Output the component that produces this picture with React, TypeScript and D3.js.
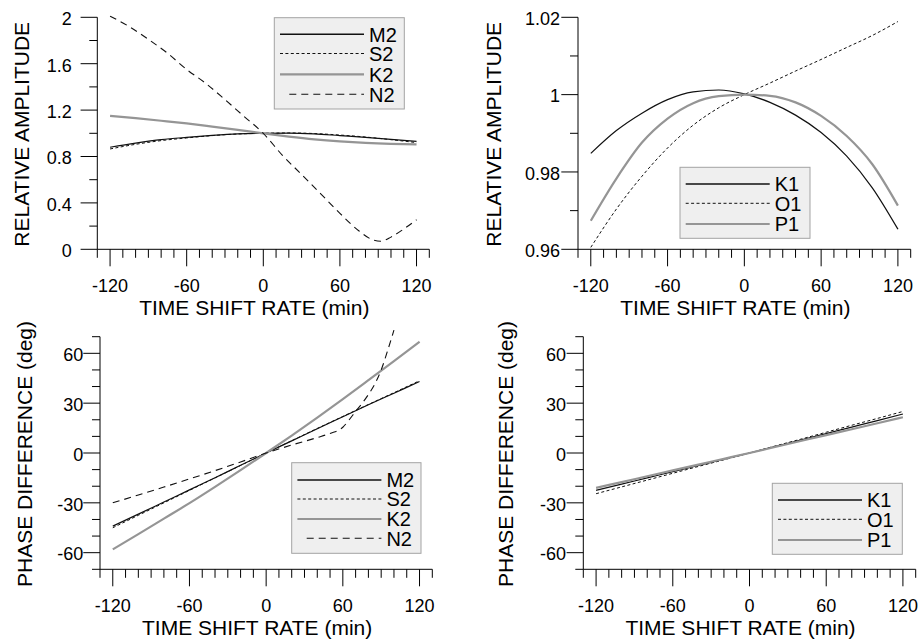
import React from "react";
import * as d3 from "d3";

// ---------- data ----------
const SHIFT = [-120, -100, -80, -60, -40, -20, 0, 20, 40, 60, 80, 100, 120];

// Relative amplitude, semidiurnal
const AMP_M2 = [0.88, 0.915, 0.945, 0.965, 0.982, 0.995, 1.0, 1.002, 0.995, 0.98, 0.965, 0.948, 0.93];
const AMP_S2 = [0.865, 0.905, 0.937, 0.96, 0.98, 0.994, 1.0, 1.003, 0.998, 0.985, 0.968, 0.945, 0.92];
const AMP_K2 = [1.15, 1.13, 1.108, 1.085, 1.058, 1.03, 1.0, 0.972, 0.948, 0.93, 0.917, 0.909, 0.905];
const AMP_N2_X = [-120, -105, -90, -75, -60, -45, -30, -15, 0, 15, 30, 45, 60, 75, 85, 92, 100, 110, 120];
const AMP_N2 = [2.01, 1.92, 1.81, 1.69, 1.55, 1.43, 1.29, 1.145, 1.0, 0.81, 0.645, 0.478, 0.31, 0.158, 0.085, 0.07, 0.105, 0.175, 0.255];

// Relative amplitude, diurnal
const AMP_K1 = [0.9848, 0.9907, 0.9952, 0.9987, 1.0007, 1.0012, 1.0002, 0.998, 0.9947, 0.9902, 0.9841, 0.9759, 0.9652];
const AMP_O1 = [0.9605, 0.9704, 0.9789, 0.9862, 0.9921, 0.9966, 1.0, 1.003, 1.0061, 1.0091, 1.0122, 1.0153, 1.0189];
const AMP_P1 = [0.9674, 0.9783, 0.9876, 0.9938, 0.9978, 0.9996, 1.0, 0.9997, 0.998, 0.9945, 0.9893, 0.982, 0.9713];

// Phase difference, semidiurnal
const PH_M2 = [-44, -36.8, -29.5, -22.2, -14.9, -7.4, 0, 7.3, 14.6, 21.8, 29, 36, 43];
const PH_S2 = [-45, -37.5, -30, -22.5, -15, -7.5, 0, 7.4, 14.8, 22, 29.2, 36.3, 43.5];
const PH_K2 = [-58, -48.8, -39.5, -30.2, -20.4, -10.3, 0, 10.5, 21.3, 32.4, 43.8, 55.3, 67];
const PH_N2_X = [-120, -100, -80, -60, -40, -20, 0, 20, 40, 50, 60, 65, 70, 75, 80, 85, 90, 95, 100];
const PH_N2 = [-30, -25.3, -20.5, -15.6, -10.6, -5.4, 0, 4.8, 9.3, 11.8, 15.5, 20, 25, 29.8, 35.2, 41.5, 50, 61.5, 74];

// Phase difference, diurnal
const PH_K1 = [-22.5, -18.7, -15, -11.2, -7.5, -3.7, 0, 3.9, 7.8, 11.7, 15.6, 19.5, 23.5];
const PH_O1 = [-24.5, -20.4, -16.3, -12.2, -8.1, -4.1, 0, 4.2, 8.3, 12.5, 16.7, 20.8, 25];
const PH_P1 = [-21, -17.5, -14, -10.5, -7, -3.5, 0, 3.6, 7.2, 10.8, 14.3, 17.9, 21.5];

// Tick labels
const X_MAJOR = [-120, -60, 0, 60, 120];
const Y_MAJOR_AMP2 = [0, 0.4, 0.8, 1.2, 1.6, 2];
const Y_MAJOR_AMP1 = [0.96, 0.98, 1, 1.02];
const Y_MAJOR_PH = [-60, -30, 0, 30, 60];

const X_TITLE = "TIME SHIFT RATE (min)";
const Y_TITLE_AMP = "RELATIVE AMPLITUDE";
const Y_TITLE_PH = "PHASE DIFFERENCE (deg)";

// ---------- styles ----------
const FONT = "'Liberation Sans', Arial, Helvetica, sans-serif";
type StyleKey = "solid" | "short" | "gray" | "long";
const STYLES: Record<StyleKey, { stroke: string; width: number; dash?: string }> = {
  solid: { stroke: "#111", width: 1.2 },
  short: { stroke: "#111", width: 1, dash: "3,2.4" },
  gray: { stroke: "#959595", width: 2.2 },
  long: { stroke: "#111", width: 1.1, dash: "7,5" },
};

type Series = { name: string; xs: number[]; ys: number[]; style: StyleKey };

type PanelCfg = {
  xRange: [number, number];
  yRange: [number, number];
  yDomain: [number, number];
  yStep: number;
  yMajor: number[];
  yTitle: string;
  yTitleX: number;
  labelGap: number;
  legend: { x: number; y: number; w: number; h: number; rows: number[] };
  series: Series[];
};

const PANELS: PanelCfg[] = [
  {
    xRange: [97.3, 429.3],
    yRange: [249.3, 17.3],
    yDomain: [0, 2],
    yStep: 0.2,
    yMajor: Y_MAJOR_AMP2,
    yTitle: Y_TITLE_AMP,
    yTitleX: 29,
    labelGap: 25.6,
    legend: { x: 274.3, y: 17.7, w: 130, h: 91.3, rows: [16.6, 35.8, 56.6, 76.6] },
    series: [
      { name: "M2", xs: SHIFT, ys: AMP_M2, style: "solid" },
      { name: "S2", xs: SHIFT, ys: AMP_S2, style: "short" },
      { name: "K2", xs: SHIFT, ys: AMP_K2, style: "gray" },
      { name: "N2", xs: AMP_N2_X, ys: AMP_N2, style: "long" },
    ],
  },
  {
    xRange: [578, 910.7],
    yRange: [249.3, 17.3],
    yDomain: [0.96, 1.02],
    yStep: 0.01,
    yMajor: Y_MAJOR_AMP1,
    yTitle: Y_TITLE_AMP,
    yTitleX: 501,
    labelGap: 18,
    legend: { x: 680, y: 167.3, w: 130, h: 71, rows: [16.7, 36, 56.7] },
    series: [
      { name: "K1", xs: SHIFT, ys: AMP_K1, style: "solid" },
      { name: "O1", xs: SHIFT, ys: AMP_O1, style: "short" },
      { name: "P1", xs: SHIFT, ys: AMP_P1, style: "gray" },
    ],
  },
  {
    xRange: [100, 432.3],
    yRange: [569.3, 336.7],
    yDomain: [-70, 70],
    yStep: 10,
    yMajor: Y_MAJOR_PH,
    yTitle: Y_TITLE_PH,
    yTitleX: 31.5,
    labelGap: 16.7,
    legend: { x: 291.7, y: 462.7, w: 129.3, h: 90.6, rows: [17.3, 36.3, 56.3, 75.6] },
    series: [
      { name: "M2", xs: SHIFT, ys: PH_M2, style: "solid" },
      { name: "S2", xs: SHIFT, ys: PH_S2, style: "short" },
      { name: "K2", xs: SHIFT, ys: PH_K2, style: "gray" },
      { name: "N2", xs: PH_N2_X, ys: PH_N2, style: "long" },
    ],
  },
  {
    xRange: [583.3, 915.7],
    yRange: [569.3, 336.7],
    yDomain: [-70, 70],
    yStep: 10,
    yMajor: Y_MAJOR_PH,
    yTitle: Y_TITLE_PH,
    yTitleX: 513,
    labelGap: 17.3,
    legend: { x: 772.3, y: 483.3, w: 130, h: 71, rows: [16.7, 36, 56.7] },
    series: [
      { name: "K1", xs: SHIFT, ys: PH_K1, style: "solid" },
      { name: "O1", xs: SHIFT, ys: PH_O1, style: "short" },
      { name: "P1", xs: SHIFT, ys: PH_P1, style: "gray" },
    ],
  },
];

const fmt = (v: number) => String(+v.toFixed(4));

function Panel({ cfg }: { cfg: PanelCfg }) {
  const x = d3.scaleLinear().domain([-130, 130]).range(cfg.xRange);
  const y = d3.scaleLinear().domain(cfg.yDomain).range(cfg.yRange);
  const xTicks = d3.range(0, 27).map((i) => -130 + i * 10);
  const nY = Math.round((cfg.yDomain[1] - cfg.yDomain[0]) / cfg.yStep);
  const yTicks = d3.range(0, nY + 1).map((i) => cfg.yDomain[0] + i * cfg.yStep);
  const isMajor = (v: number, arr: number[]) => arr.some((m) => Math.abs(m - v) < 1e-6);
  const x0 = x(-130);
  const yBottom = y(cfg.yDomain[0]);
  const yTop = y(cfg.yDomain[1]);
  const line = d3
    .line<[number, number]>()
    .x((d) => x(d[0]))
    .y((d) => y(d[1]))
    .curve(d3.curveMonotoneX);
  const lg = cfg.legend;
  return (
    <g>
      {/* curves */}
      {cfg.series.map((s) => {
        const st = STYLES[s.style];
        const pts = s.xs.map((xv, i) => [xv, s.ys[i]] as [number, number]);
        return (
          <path
            key={s.name}
            d={line(pts) || ""}
            fill="none"
            stroke={st.stroke}
            strokeWidth={st.width}
            strokeDasharray={st.dash}
          />
        );
      })}
      {/* axes */}
      <line x1={x0} x2={x0} y1={yTop} y2={yBottom} stroke="#000" strokeWidth={1} />
      <line x1={x0} x2={x(130)} y1={yBottom} y2={yBottom} stroke="#000" strokeWidth={1} />
      {yTicks.map((v) => {
        const maj = isMajor(v, cfg.yMajor);
        return (
          <line
            key={"yt" + v}
            x1={x0 - (maj ? 16.7 : 8)}
            x2={x0}
            y1={y(v)}
            y2={y(v)}
            stroke="#000"
            strokeWidth={1}
          />
        );
      })}
      {xTicks.map((v) => {
        const maj = isMajor(v, X_MAJOR);
        return (
          <line
            key={"xt" + v}
            x1={x(v)}
            x2={x(v)}
            y1={yBottom}
            y2={yBottom + (maj ? 17 : 8.5)}
            stroke="#000"
            strokeWidth={1}
          />
        );
      })}
      {cfg.yMajor.map((v) => (
        <text
          key={"yl" + v}
          x={x0 - cfg.labelGap}
          y={y(v) + 7.8}
          textAnchor="end"
          fontSize={18}
          fontFamily={FONT}
          fill="#000"
        >
          {fmt(v)}
        </text>
      ))}
      {X_MAJOR.map((v) => (
        <text
          key={"xl" + v}
          x={x(v)}
          y={yBottom + 42.4}
          textAnchor="middle"
          fontSize={18}
          fontFamily={FONT}
          fill="#000"
        >
          {fmt(v)}
        </text>
      ))}
      <text
        x={x(0) - 9}
        y={yBottom + 65.5}
        textAnchor="middle"
        fontSize={21}
        fontFamily={FONT}
        fill="#000"
      >
        {X_TITLE}
      </text>
      <text
        transform={`translate(${cfg.yTitleX},${(yTop + yBottom) / 2 + 1}) rotate(-90)`}
        textAnchor="middle"
        fontSize={21}
        fontFamily={FONT}
        fill="#000"
      >
        {cfg.yTitle}
      </text>
      {/* legend */}
      <rect x={lg.x} y={lg.y} width={lg.w} height={lg.h} fill="#efefef" stroke="#a3a3a3" strokeWidth={1} />
      {cfg.series.map((s, i) => {
        const st = STYLES[s.style];
        const ry = lg.y + lg.rows[i];
        return (
          <g key={"lg" + s.name}>
            <line
              x1={lg.x + (s.style === "long" ? 15 : 5.7)}
              x2={lg.x + 89.7}
              y1={ry}
              y2={ry}
              stroke={st.stroke}
              strokeWidth={st.width + (s.style === "solid" ? 0.4 : 0)}
              strokeDasharray={st.dash}
            />
            <text x={lg.x + 94.7} y={ry + 7.3} fontSize={20} fontFamily={FONT} fill="#000">
              {s.name}
            </text>
          </g>
        );
      })}
    </g>
  );
}

export default function App() {
  return (
    <svg
      width={919}
      height={639}
      viewBox="0 0 919 639"
      style={{ position: "absolute", left: 0, top: 0, background: "#fff" }}
    >
      <rect x={0} y={0} width={919} height={639} fill="#fff" />
      {PANELS.map((p, i) => (
        <Panel key={i} cfg={p} />
      ))}
    </svg>
  );
}
